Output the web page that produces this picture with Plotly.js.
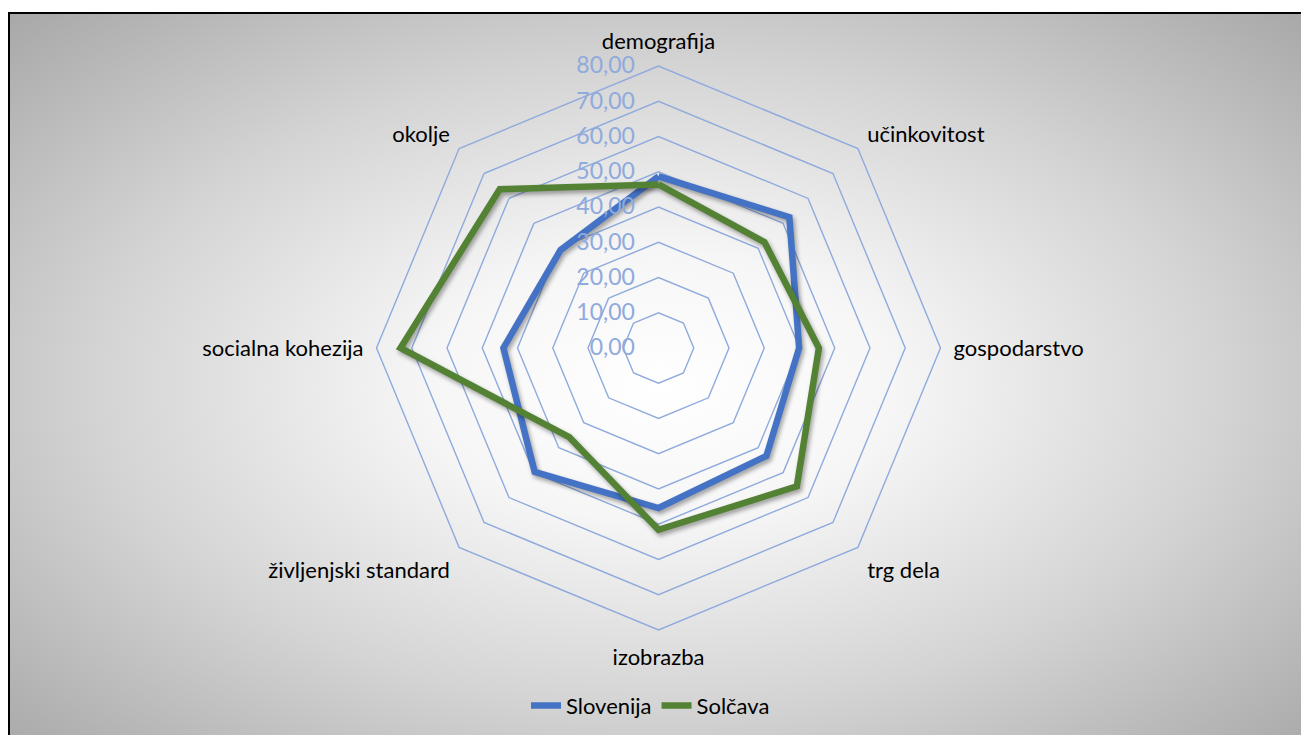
<!DOCTYPE html>
<html>
<head>
<meta charset="utf-8">
<script src="https://cdn.plot.ly/plotly-3.0.1.min.js"></script>
<style>
  html, body { margin: 0; padding: 0; width: 1301px; height: 735px; overflow: hidden; background: #ffffff; }
  #box {
    position: absolute; left: 8px; top: 12px; width: 1310px; height: 750px;
    border-left: 2px solid #000; border-top: 2px solid #000;
    background: radial-gradient(farthest-corner at 650px 372px, #ffffff 0%, #f6f6f6 25%, #d4d4d4 60%, #a6a6a6 100%);
  }
  #chart { position: absolute; left: 0; top: 0; width: 1301px; height: 735px; }
  #chart .scatterlayer .trace path.js-line { filter: drop-shadow(2px 3px 2px rgba(0,0,0,0.35)); }
</style>
</head>
<body>
<div id="box"></div>
<div id="chart"></div>
<script>
const categories = ["demografija", "učinkovitost", "gospodarstvo", "trg dela", "izobrazba", "življenjski standard", "socialna kohezija", "okolje"];
const slovenija = [48.7, 52.5, 39.9, 43.3, 45.4, 49.7, 44.0, 39.3];
const solcava   = [46.4, 42.5, 45.5, 55.5, 51.6, 35.8, 73.2, 63.7];
const seriesNames = ["Slovenija", "Solčava"];
const radialTicks = [0, 10, 20, 30, 40, 50, 60, 70, 80];

const closeLoop = a => a.concat([a[0]]);
const font = "Lato, 'Open Sans', sans-serif";

const traces = [
  { type: "scatterpolar", mode: "lines", name: seriesNames[0],
    r: closeLoop(slovenija), theta: closeLoop(categories),
    line: { color: "#4472C4", width: 6.5 }, hoverinfo: "skip" },
  { type: "scatterpolar", mode: "lines", name: seriesNames[1],
    r: closeLoop(solcava), theta: closeLoop(categories),
    line: { color: "#548235", width: 6.5 }, hoverinfo: "skip" }
];

const layout = {
  width: 1301, height: 735,
  margin: { l: 0, r: 0, t: 0, b: 0 },
  paper_bgcolor: "rgba(0,0,0,0)",
  plot_bgcolor: "rgba(0,0,0,0)",
  separators: ",.",
  font: { family: font, color: "#000" },
  showlegend: true,
  legend: { orientation: "h", x: 0.5, xanchor: "center", y: 0.04, yanchor: "middle",
            font: { size: 22, color: "#000", family: font }, bgcolor: "rgba(0,0,0,0)" },
  polar: {
    domain: { x: [0.2894, 0.7229], y: [0.1429, 0.9102] },
    bgcolor: "rgba(0,0,0,0)",
    gridshape: "linear",
    angularaxis: {
      rotation: 90, direction: "clockwise",
      showgrid: false, showline: true, linecolor: "#8FAADC", linewidth: 1.4,
      ticks: "outside", ticklen: 8, tickcolor: "rgba(0,0,0,0)",
      tickfont: { size: 22, color: "#000", family: font }
    },
    radialaxis: {
      range: [0, 80], angle: 90, side: "counterclockwise",
      tickvals: radialTicks, tickformat: ".2f",
      showgrid: true, gridcolor: "#8FAADC", gridwidth: 1.4,
      showline: false, ticks: "outside", ticklen: 15, tickcolor: "rgba(0,0,0,0)",
      tickangle: 90,
      tickfont: { size: 23, color: "#8FAADC", family: font }
    }
  }
};

Plotly.newPlot("chart", traces, layout, { staticPlot: true });
</script>
</body>
</html>
